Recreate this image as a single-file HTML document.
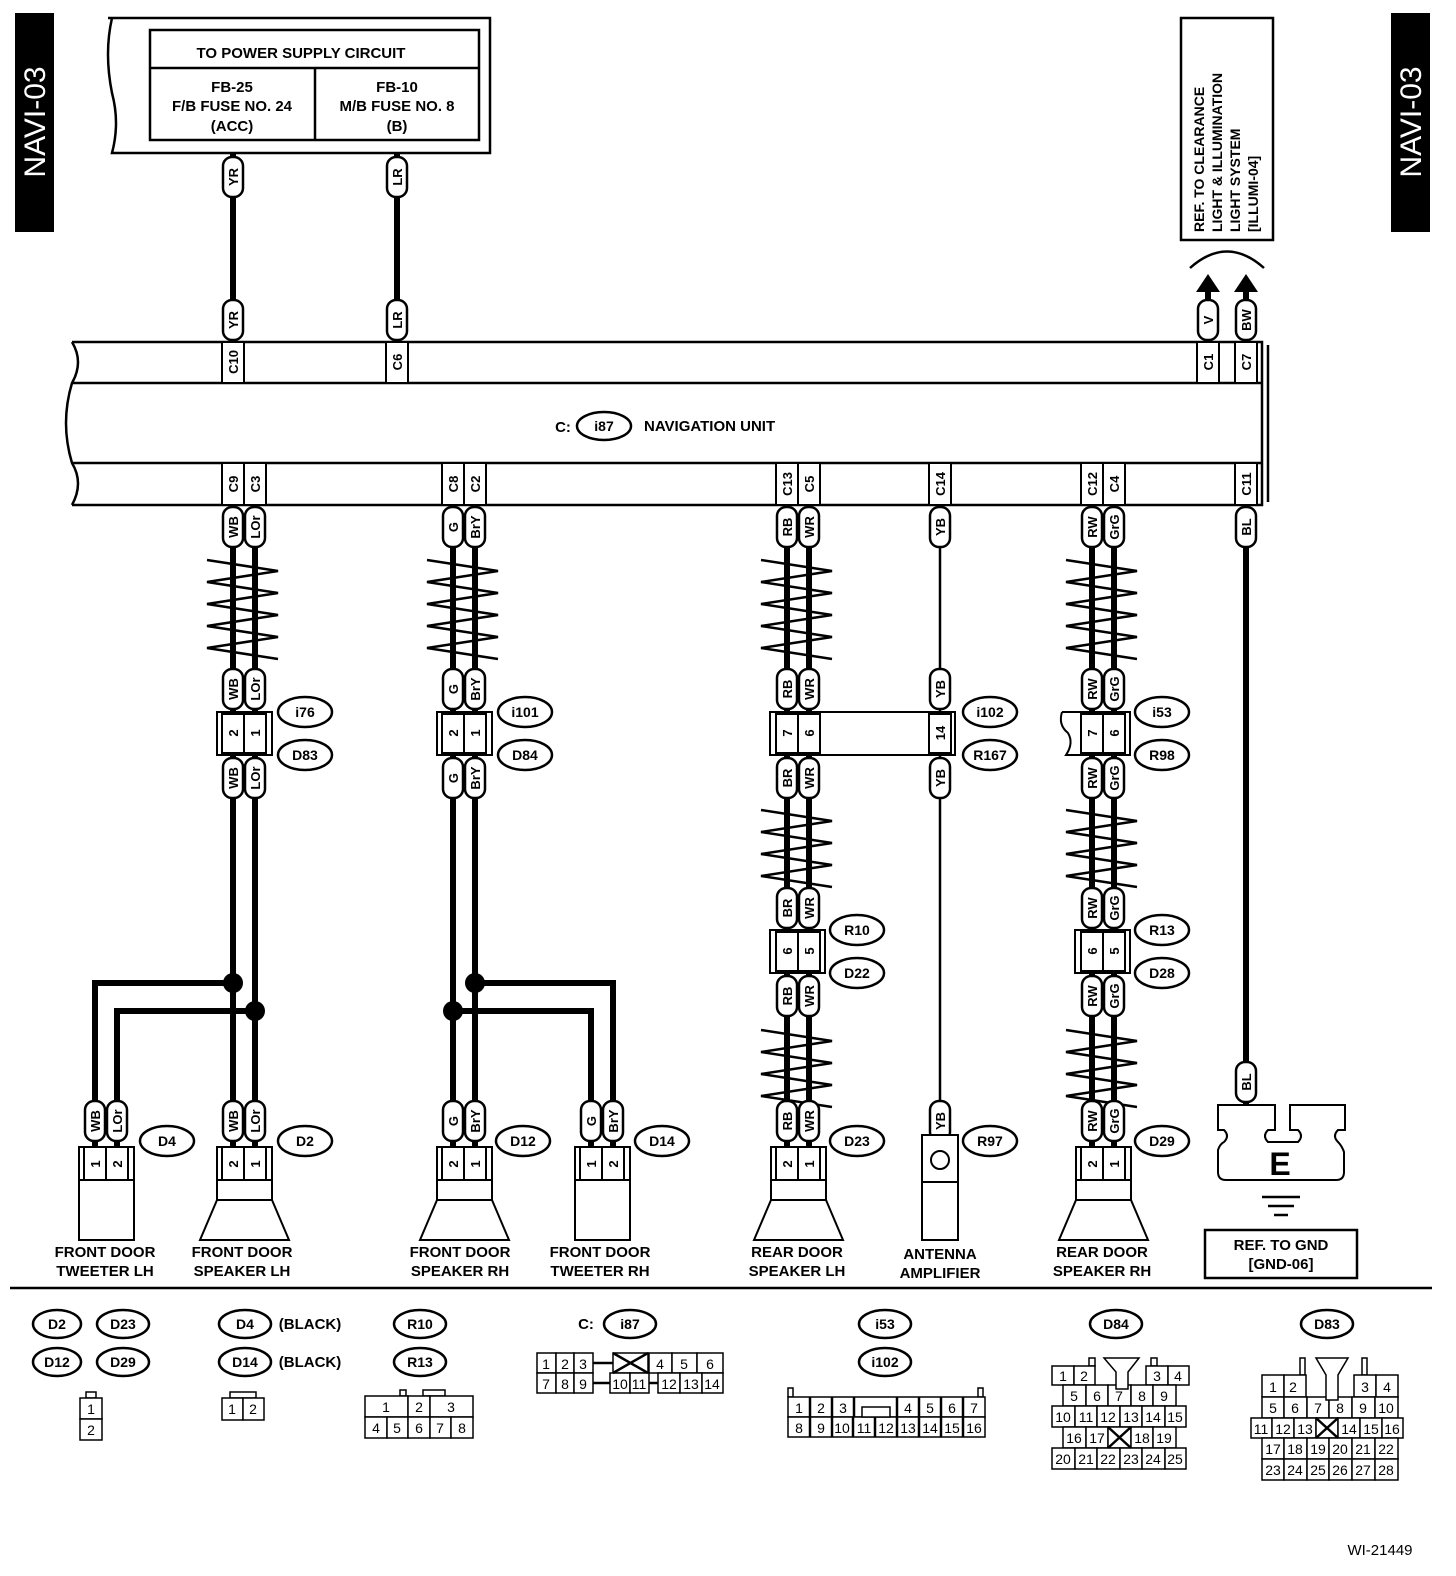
<!DOCTYPE html>
<html><head><meta charset="utf-8"><style>
html,body{margin:0;padding:0;background:#fff}
svg{display:block}
text{font-family:"Liberation Sans",sans-serif;font-weight:bold;fill:#000}
.p rect{fill:#fff;stroke:#000;stroke-width:2.5}
.p text{font-size:13px;text-anchor:middle}
.o ellipse{fill:#fff;stroke:#000;stroke-width:2.5}
.o text{font-size:14px;text-anchor:middle}
.w{stroke:#000;stroke-width:6;fill:none}
.t{stroke:#000;stroke-width:2.5;fill:none}
.b{stroke:#000;stroke-width:2;fill:#fff}
.c{font-size:13px;text-anchor:middle}
.lb{font-size:15px;text-anchor:middle}
.g rect{fill:#fff;stroke:#000;stroke-width:1.5}
.g text,text.n{font-size:14px;font-weight:normal;text-anchor:middle}
</style></head><body>
<svg width="1456" height="1576" viewBox="0 0 1456 1576" xmlns="http://www.w3.org/2000/svg">
<defs>
<polyline id="zz" class="t" points="-37,0 34,11 -37,22 34,33 -37,44 34,55 -37,66 34,77 -37,88 34,99"/>
<polyline id="zz2" class="t" points="-37,0 34,11 -37,22 34,33 -37,44 34,55 -37,66 34,77"/>
</defs>

<!-- side tabs -->
<rect x="15" y="13" width="39" height="219" fill="#000"/>
<text transform="translate(45,122) rotate(-90)" style="fill:#fff;font-size:30px;font-weight:normal;text-anchor:middle">NAVI-03</text>
<rect x="1391" y="13" width="39" height="219" fill="#000"/>
<text transform="translate(1421,122) rotate(-90)" style="fill:#fff;font-size:30px;font-weight:normal;text-anchor:middle">NAVI-03</text>

<!-- power supply box -->
<path d="M108 18 H490 V153 H112 q8 -30 0 -60 q-8 -40 0 -75" class="t"/>
<rect x="150" y="30" width="329" height="110" class="t"/>
<line x1="150" y1="68" x2="479" y2="68" class="t"/>
<line x1="315" y1="68" x2="315" y2="140" class="t"/>
<text x="301" y="58" class="lb">TO POWER SUPPLY CIRCUIT</text>
<text x="232" y="92" class="lb">FB-25</text>
<text x="232" y="111" class="lb">F/B FUSE NO. 24</text>
<text x="232" y="131" class="lb">(ACC)</text>
<text x="397" y="92" class="lb">FB-10</text>
<text x="397" y="111" class="lb">M/B FUSE NO. 8</text>
<text x="397" y="131" class="lb">(B)</text>

<!-- ref box right -->
<rect x="1181" y="18" width="92" height="222" class="t"/>
<text transform="translate(1204,232) rotate(-90)" style="font-size:14px">REF. TO CLEARANCE</text>
<text transform="translate(1222,232) rotate(-90)" style="font-size:14px">LIGHT &amp; ILLUMINATION</text>
<text transform="translate(1240,232) rotate(-90)" style="font-size:14px">LIGHT SYSTEM</text>
<text transform="translate(1258,232) rotate(-90)" style="font-size:14px">[ILLUMI-04]</text>
<path d="M1190 268 Q1227 235 1264 268" class="t" stroke-width="2"/>
<polygon points="1208,274 1196,292 1220,292" fill="#000"/>
<polygon points="1246,274 1234,292 1258,292" fill="#000"/>

<!-- wires top -->
<line x1="233" y1="153" x2="233" y2="342" class="w"/>
<line x1="397" y1="153" x2="397" y2="342" class="w"/>
<line x1="1208" y1="290" x2="1208" y2="342" class="w"/>
<line x1="1246" y1="290" x2="1246" y2="342" class="w"/>

<!-- navigation unit -->
<path d="M72 342 H1262 V505 H72" class="t"/>
<line x1="1268" y1="345" x2="1268" y2="502" class="t" stroke-width="1.5"/>
<line x1="72" y1="383" x2="1262" y2="383" class="t"/>
<line x1="72" y1="463" x2="1262" y2="463" class="t"/>
<path d="M72 342 q12 20 0 41 q-12 40 0 80 q12 20 0 42" class="t"/>
<g class="b">
<rect x="222" y="342" width="22" height="41"/><rect x="386" y="342" width="22" height="41"/>
<rect x="1197" y="342" width="22" height="41"/><rect x="1235" y="342" width="22" height="41"/>
<rect x="222" y="463" width="22" height="42"/><rect x="244" y="463" width="22" height="42"/>
<rect x="442" y="463" width="22" height="42"/><rect x="464" y="463" width="22" height="42"/>
<rect x="776" y="463" width="22" height="42"/><rect x="798" y="463" width="22" height="42"/>
<rect x="929" y="463" width="22" height="42"/>
<rect x="1081" y="463" width="22" height="42"/><rect x="1103" y="463" width="22" height="42"/>
<rect x="1235" y="463" width="22" height="42"/>
</g>
<g class="c">
<text transform="translate(238,362) rotate(-90)">C10</text>
<text transform="translate(402,362) rotate(-90)">C6</text>
<text transform="translate(1213,362) rotate(-90)">C1</text>
<text transform="translate(1251,362) rotate(-90)">C7</text>
<text transform="translate(238,484) rotate(-90)">C9</text>
<text transform="translate(260,484) rotate(-90)">C3</text>
<text transform="translate(458,484) rotate(-90)">C8</text>
<text transform="translate(480,484) rotate(-90)">C2</text>
<text transform="translate(792,484) rotate(-90)">C13</text>
<text transform="translate(814,484) rotate(-90)">C5</text>
<text transform="translate(945,484) rotate(-90)">C14</text>
<text transform="translate(1097,484) rotate(-90)">C12</text>
<text transform="translate(1119,484) rotate(-90)">C4</text>
<text transform="translate(1251,484) rotate(-90)">C11</text>
</g>
<text x="563" y="432" class="lb">C:</text>
<g class="o"><ellipse cx="604" cy="426" rx="27" ry="14"/><text x="604" y="431">i87</text></g>
<text x="644" y="431" style="font-size:15px">NAVIGATION UNIT</text>

<!-- main wires -->
<g class="w">
<line x1="233" y1="505" x2="233" y2="1147"/><line x1="255" y1="505" x2="255" y2="1147"/>
<line x1="453" y1="505" x2="453" y2="1147"/><line x1="475" y1="505" x2="475" y2="1147"/>
<line x1="787" y1="505" x2="787" y2="1147"/><line x1="809" y1="505" x2="809" y2="1147"/>
<line x1="1092" y1="505" x2="1092" y2="1147"/><line x1="1114" y1="505" x2="1114" y2="1147"/>
<line x1="1246" y1="505" x2="1246" y2="1105"/>
<path d="M233 983 H95 V1147"/><path d="M255 1011 H117 V1147"/>
<path d="M475 983 H613 V1147"/><path d="M453 1011 H591 V1147"/>
</g>
<line x1="940" y1="505" x2="940" y2="1135" class="t" stroke-width="3.5"/>
<g fill="#000"><circle cx="233" cy="983" r="10"/><circle cx="255" cy="1011" r="10"/><circle cx="453" cy="1011" r="10"/><circle cx="475" cy="983" r="10"/></g>

<!-- twist markers -->
<use href="#zz" x="244" y="560"/><use href="#zz" x="464" y="560"/>
<use href="#zz" x="798" y="560"/><use href="#zz" x="1103" y="560"/>
<use href="#zz2" x="798" y="810"/><use href="#zz2" x="1103" y="810"/>
<use href="#zz2" x="798" y="1030"/><use href="#zz2" x="1103" y="1030"/>

<!-- mid connectors -->
<rect x="217" y="712" width="55" height="43" class="b"/>
<rect x="222" y="714" width="22" height="39" class="b"/><rect x="244" y="714" width="22" height="39" class="b"/>
<rect x="437" y="712" width="55" height="43" class="b"/>
<rect x="442" y="714" width="22" height="39" class="b"/><rect x="464" y="714" width="22" height="39" class="b"/>
<rect x="770" y="712" width="185" height="43" class="b"/>
<rect x="776" y="714" width="22" height="39" class="b"/><rect x="798" y="714" width="22" height="39" class="b"/><rect x="929" y="714" width="22" height="39" class="b"/>
<path d="M1062 712 H1130 V755 H1066 q8 -12 2 -22 q-10 -8 -6 -21" class="b"/>
<rect x="1081" y="714" width="22" height="39" class="b"/><rect x="1103" y="714" width="22" height="39" class="b"/>
<rect x="770" y="930" width="55" height="43" class="b"/>
<rect x="776" y="932" width="22" height="39" class="b"/><rect x="798" y="932" width="22" height="39" class="b"/>
<rect x="1075" y="930" width="55" height="43" class="b"/>
<rect x="1081" y="932" width="22" height="39" class="b"/><rect x="1103" y="932" width="22" height="39" class="b"/>
<g class="c">
<text transform="translate(238,733) rotate(-90)">2</text><text transform="translate(260,733) rotate(-90)">1</text>
<text transform="translate(458,733) rotate(-90)">2</text><text transform="translate(480,733) rotate(-90)">1</text>
<text transform="translate(792,733) rotate(-90)">7</text><text transform="translate(814,733) rotate(-90)">6</text><text transform="translate(945,733) rotate(-90)">14</text>
<text transform="translate(1097,733) rotate(-90)">7</text><text transform="translate(1119,733) rotate(-90)">6</text>
<text transform="translate(792,951) rotate(-90)">6</text><text transform="translate(814,951) rotate(-90)">5</text>
<text transform="translate(1097,951) rotate(-90)">6</text><text transform="translate(1119,951) rotate(-90)">5</text>
</g>

<!-- pills -->
<g class="p">
<g transform="translate(233,177)"><rect x="-10" y="-20" width="20" height="40" rx="9"/><text transform="rotate(-90)" y="5">YR</text></g>
<g transform="translate(397,177)"><rect x="-10" y="-20" width="20" height="40" rx="9"/><text transform="rotate(-90)" y="5">LR</text></g>
<g transform="translate(233,320)"><rect x="-10" y="-20" width="20" height="40" rx="9"/><text transform="rotate(-90)" y="5">YR</text></g>
<g transform="translate(397,320)"><rect x="-10" y="-20" width="20" height="40" rx="9"/><text transform="rotate(-90)" y="5">LR</text></g>
<g transform="translate(1208,320)"><rect x="-10" y="-20" width="20" height="40" rx="9"/><text transform="rotate(-90)" y="5">V</text></g>
<g transform="translate(1246,320)"><rect x="-10" y="-20" width="20" height="40" rx="9"/><text transform="rotate(-90)" y="5">BW</text></g>

<g transform="translate(233,527)"><rect x="-10" y="-20" width="20" height="40" rx="9"/><text transform="rotate(-90)" y="5">WB</text></g>
<g transform="translate(255,527)"><rect x="-10" y="-20" width="20" height="40" rx="9"/><text transform="rotate(-90)" y="5">LOr</text></g>
<g transform="translate(453,527)"><rect x="-10" y="-20" width="20" height="40" rx="9"/><text transform="rotate(-90)" y="5">G</text></g>
<g transform="translate(475,527)"><rect x="-10" y="-20" width="20" height="40" rx="9"/><text transform="rotate(-90)" y="5">BrY</text></g>
<g transform="translate(787,527)"><rect x="-10" y="-20" width="20" height="40" rx="9"/><text transform="rotate(-90)" y="5">RB</text></g>
<g transform="translate(809,527)"><rect x="-10" y="-20" width="20" height="40" rx="9"/><text transform="rotate(-90)" y="5">WR</text></g>
<g transform="translate(940,527)"><rect x="-10" y="-20" width="20" height="40" rx="9"/><text transform="rotate(-90)" y="5">YB</text></g>
<g transform="translate(1092,527)"><rect x="-10" y="-20" width="20" height="40" rx="9"/><text transform="rotate(-90)" y="5">RW</text></g>
<g transform="translate(1114,527)"><rect x="-10" y="-20" width="20" height="40" rx="9"/><text transform="rotate(-90)" y="5">GrG</text></g>
<g transform="translate(1246,527)"><rect x="-10" y="-20" width="20" height="40" rx="9"/><text transform="rotate(-90)" y="5">BL</text></g>

<g transform="translate(233,689)"><rect x="-10" y="-20" width="20" height="40" rx="9"/><text transform="rotate(-90)" y="5">WB</text></g>
<g transform="translate(255,689)"><rect x="-10" y="-20" width="20" height="40" rx="9"/><text transform="rotate(-90)" y="5">LOr</text></g>
<g transform="translate(453,689)"><rect x="-10" y="-20" width="20" height="40" rx="9"/><text transform="rotate(-90)" y="5">G</text></g>
<g transform="translate(475,689)"><rect x="-10" y="-20" width="20" height="40" rx="9"/><text transform="rotate(-90)" y="5">BrY</text></g>
<g transform="translate(787,689)"><rect x="-10" y="-20" width="20" height="40" rx="9"/><text transform="rotate(-90)" y="5">RB</text></g>
<g transform="translate(809,689)"><rect x="-10" y="-20" width="20" height="40" rx="9"/><text transform="rotate(-90)" y="5">WR</text></g>
<g transform="translate(940,689)"><rect x="-10" y="-20" width="20" height="40" rx="9"/><text transform="rotate(-90)" y="5">YB</text></g>
<g transform="translate(1092,689)"><rect x="-10" y="-20" width="20" height="40" rx="9"/><text transform="rotate(-90)" y="5">RW</text></g>
<g transform="translate(1114,689)"><rect x="-10" y="-20" width="20" height="40" rx="9"/><text transform="rotate(-90)" y="5">GrG</text></g>

<g transform="translate(233,778)"><rect x="-10" y="-20" width="20" height="40" rx="9"/><text transform="rotate(-90)" y="5">WB</text></g>
<g transform="translate(255,778)"><rect x="-10" y="-20" width="20" height="40" rx="9"/><text transform="rotate(-90)" y="5">LOr</text></g>
<g transform="translate(453,778)"><rect x="-10" y="-20" width="20" height="40" rx="9"/><text transform="rotate(-90)" y="5">G</text></g>
<g transform="translate(475,778)"><rect x="-10" y="-20" width="20" height="40" rx="9"/><text transform="rotate(-90)" y="5">BrY</text></g>
<g transform="translate(787,778)"><rect x="-10" y="-20" width="20" height="40" rx="9"/><text transform="rotate(-90)" y="5">BR</text></g>
<g transform="translate(809,778)"><rect x="-10" y="-20" width="20" height="40" rx="9"/><text transform="rotate(-90)" y="5">WR</text></g>
<g transform="translate(940,778)"><rect x="-10" y="-20" width="20" height="40" rx="9"/><text transform="rotate(-90)" y="5">YB</text></g>
<g transform="translate(1092,778)"><rect x="-10" y="-20" width="20" height="40" rx="9"/><text transform="rotate(-90)" y="5">RW</text></g>
<g transform="translate(1114,778)"><rect x="-10" y="-20" width="20" height="40" rx="9"/><text transform="rotate(-90)" y="5">GrG</text></g>

<g transform="translate(787,908)"><rect x="-10" y="-20" width="20" height="40" rx="9"/><text transform="rotate(-90)" y="5">BR</text></g>
<g transform="translate(809,908)"><rect x="-10" y="-20" width="20" height="40" rx="9"/><text transform="rotate(-90)" y="5">WR</text></g>
<g transform="translate(1092,908)"><rect x="-10" y="-20" width="20" height="40" rx="9"/><text transform="rotate(-90)" y="5">RW</text></g>
<g transform="translate(1114,908)"><rect x="-10" y="-20" width="20" height="40" rx="9"/><text transform="rotate(-90)" y="5">GrG</text></g>
<g transform="translate(787,996)"><rect x="-10" y="-20" width="20" height="40" rx="9"/><text transform="rotate(-90)" y="5">RB</text></g>
<g transform="translate(809,996)"><rect x="-10" y="-20" width="20" height="40" rx="9"/><text transform="rotate(-90)" y="5">WR</text></g>
<g transform="translate(1092,996)"><rect x="-10" y="-20" width="20" height="40" rx="9"/><text transform="rotate(-90)" y="5">RW</text></g>
<g transform="translate(1114,996)"><rect x="-10" y="-20" width="20" height="40" rx="9"/><text transform="rotate(-90)" y="5">GrG</text></g>

<g transform="translate(95,1121)"><rect x="-10" y="-20" width="20" height="40" rx="9"/><text transform="rotate(-90)" y="5">WB</text></g>
<g transform="translate(117,1121)"><rect x="-10" y="-20" width="20" height="40" rx="9"/><text transform="rotate(-90)" y="5">LOr</text></g>
<g transform="translate(233,1121)"><rect x="-10" y="-20" width="20" height="40" rx="9"/><text transform="rotate(-90)" y="5">WB</text></g>
<g transform="translate(255,1121)"><rect x="-10" y="-20" width="20" height="40" rx="9"/><text transform="rotate(-90)" y="5">LOr</text></g>
<g transform="translate(453,1121)"><rect x="-10" y="-20" width="20" height="40" rx="9"/><text transform="rotate(-90)" y="5">G</text></g>
<g transform="translate(475,1121)"><rect x="-10" y="-20" width="20" height="40" rx="9"/><text transform="rotate(-90)" y="5">BrY</text></g>
<g transform="translate(591,1121)"><rect x="-10" y="-20" width="20" height="40" rx="9"/><text transform="rotate(-90)" y="5">G</text></g>
<g transform="translate(613,1121)"><rect x="-10" y="-20" width="20" height="40" rx="9"/><text transform="rotate(-90)" y="5">BrY</text></g>
<g transform="translate(787,1121)"><rect x="-10" y="-20" width="20" height="40" rx="9"/><text transform="rotate(-90)" y="5">RB</text></g>
<g transform="translate(809,1121)"><rect x="-10" y="-20" width="20" height="40" rx="9"/><text transform="rotate(-90)" y="5">WR</text></g>
<g transform="translate(940,1121)"><rect x="-10" y="-20" width="20" height="40" rx="9"/><text transform="rotate(-90)" y="5">YB</text></g>
<g transform="translate(1092,1121)"><rect x="-10" y="-20" width="20" height="40" rx="9"/><text transform="rotate(-90)" y="5">RW</text></g>
<g transform="translate(1114,1121)"><rect x="-10" y="-20" width="20" height="40" rx="9"/><text transform="rotate(-90)" y="5">GrG</text></g>
<g transform="translate(1246,1082)"><rect x="-10" y="-20" width="20" height="40" rx="9"/><text transform="rotate(-90)" y="5">BL</text></g>
</g>

<!-- ovals -->
<g class="o">
<ellipse cx="305" cy="712" rx="27" ry="15"/><text x="305" y="717">i76</text>
<ellipse cx="305" cy="755" rx="27" ry="15"/><text x="305" y="760">D83</text>
<ellipse cx="525" cy="712" rx="27" ry="15"/><text x="525" y="717">i101</text>
<ellipse cx="525" cy="755" rx="27" ry="15"/><text x="525" y="760">D84</text>
<ellipse cx="990" cy="712" rx="27" ry="15"/><text x="990" y="717">i102</text>
<ellipse cx="990" cy="755" rx="27" ry="15"/><text x="990" y="760">R167</text>
<ellipse cx="1162" cy="712" rx="27" ry="15"/><text x="1162" y="717">i53</text>
<ellipse cx="1162" cy="755" rx="27" ry="15"/><text x="1162" y="760">R98</text>
<ellipse cx="857" cy="930" rx="27" ry="15"/><text x="857" y="935">R10</text>
<ellipse cx="857" cy="973" rx="27" ry="15"/><text x="857" y="978">D22</text>
<ellipse cx="1162" cy="930" rx="27" ry="15"/><text x="1162" y="935">R13</text>
<ellipse cx="1162" cy="973" rx="27" ry="15"/><text x="1162" y="978">D28</text>
<ellipse cx="167" cy="1141" rx="27" ry="15"/><text x="167" y="1146">D4</text>
<ellipse cx="305" cy="1141" rx="27" ry="15"/><text x="305" y="1146">D2</text>
<ellipse cx="523" cy="1141" rx="27" ry="15"/><text x="523" y="1146">D12</text>
<ellipse cx="662" cy="1141" rx="27" ry="15"/><text x="662" y="1146">D14</text>
<ellipse cx="857" cy="1141" rx="27" ry="15"/><text x="857" y="1146">D23</text>
<ellipse cx="990" cy="1141" rx="27" ry="15"/><text x="990" y="1146">R97</text>
<ellipse cx="1162" cy="1141" rx="27" ry="15"/><text x="1162" y="1146">D29</text>
</g>

<!-- devices -->
<g class="b">
<rect x="79" y="1147" width="55" height="33"/><rect x="84" y="1147" width="22" height="33"/><rect x="106" y="1147" width="22" height="33"/>
<rect x="79" y="1180" width="55" height="60"/>
<rect x="217" y="1147" width="55" height="33"/><rect x="222" y="1147" width="22" height="33"/><rect x="244" y="1147" width="22" height="33"/>
<rect x="217" y="1180" width="55" height="20"/><polygon points="217,1200 272,1200 289,1240 200,1240"/>
<rect x="437" y="1147" width="55" height="33"/><rect x="442" y="1147" width="22" height="33"/><rect x="464" y="1147" width="22" height="33"/>
<rect x="437" y="1180" width="55" height="20"/><polygon points="437,1200 492,1200 509,1240 420,1240"/>
<rect x="575" y="1147" width="55" height="33"/><rect x="580" y="1147" width="22" height="33"/><rect x="602" y="1147" width="22" height="33"/>
<rect x="575" y="1180" width="55" height="60"/>
<rect x="771" y="1147" width="55" height="33"/><rect x="776" y="1147" width="22" height="33"/><rect x="798" y="1147" width="22" height="33"/>
<rect x="771" y="1180" width="55" height="20"/><polygon points="771,1200 826,1200 843,1240 754,1240"/>
<rect x="1076" y="1147" width="55" height="33"/><rect x="1081" y="1147" width="22" height="33"/><rect x="1103" y="1147" width="22" height="33"/>
<rect x="1076" y="1180" width="55" height="20"/><polygon points="1076,1200 1131,1200 1148,1240 1059,1240"/>
<rect x="922" y="1135" width="36" height="105"/><line x1="922" y1="1182" x2="958" y2="1182"/>
<circle cx="940" cy="1160" r="9"/>
</g>
<g class="c">
<text transform="translate(100,1164) rotate(-90)">1</text><text transform="translate(122,1164) rotate(-90)">2</text>
<text transform="translate(238,1164) rotate(-90)">2</text><text transform="translate(260,1164) rotate(-90)">1</text>
<text transform="translate(458,1164) rotate(-90)">2</text><text transform="translate(480,1164) rotate(-90)">1</text>
<text transform="translate(596,1164) rotate(-90)">1</text><text transform="translate(618,1164) rotate(-90)">2</text>
<text transform="translate(792,1164) rotate(-90)">2</text><text transform="translate(814,1164) rotate(-90)">1</text>
<text transform="translate(1097,1164) rotate(-90)">2</text><text transform="translate(1119,1164) rotate(-90)">1</text>
</g>

<!-- ground -->
<path d="M1218 1105 H1275 V1130 H1268 q-6 6 0 12 H1298 q6 -6 0 -12 H1290 V1105 H1345 V1130 H1338 q-6 6 0 12 q4 4 6 10 V1172 q0 8 -8 8 H1226 q-8 0 -8 -8 V1150 q2 -6 6 -8 q6 -6 0 -12 H1218 Z" class="b" stroke-width="2.5"/>
<text x="1280" y="1175" style="font-size:32px;text-anchor:middle">E</text>
<g class="t"><line x1="1262" y1="1197" x2="1300" y2="1197"/><line x1="1268" y1="1206" x2="1294" y2="1206"/><line x1="1274" y1="1215" x2="1288" y2="1215"/></g>
<rect x="1205" y="1230" width="152" height="48" class="t"/>
<text x="1281" y="1250" class="lb">REF. TO GND</text>
<text x="1281" y="1269" class="lb">[GND-06]</text>

<!-- labels -->
<g class="lb">
<text x="105" y="1257">FRONT DOOR</text><text x="105" y="1276">TWEETER LH</text>
<text x="242" y="1257">FRONT DOOR</text><text x="242" y="1276">SPEAKER LH</text>
<text x="460" y="1257">FRONT DOOR</text><text x="460" y="1276">SPEAKER RH</text>
<text x="600" y="1257">FRONT DOOR</text><text x="600" y="1276">TWEETER RH</text>
<text x="797" y="1257">REAR DOOR</text><text x="797" y="1276">SPEAKER LH</text>
<text x="940" y="1259">ANTENNA</text><text x="940" y="1278">AMPLIFIER</text>
<text x="1102" y="1257">REAR DOOR</text><text x="1102" y="1276">SPEAKER RH</text>
</g>
<line x1="10" y1="1288" x2="1432" y2="1288" class="t"/>

<!-- legend -->
<g class="o">
<ellipse cx="57" cy="1324" rx="24" ry="14"/><text x="57" y="1329">D2</text>
<ellipse cx="123" cy="1324" rx="26" ry="14"/><text x="123" y="1329">D23</text>
<ellipse cx="57" cy="1362" rx="24" ry="14"/><text x="57" y="1367">D12</text>
<ellipse cx="123" cy="1362" rx="26" ry="14"/><text x="123" y="1367">D29</text>
<ellipse cx="245" cy="1324" rx="26" ry="14"/><text x="245" y="1329">D4</text>
<ellipse cx="245" cy="1362" rx="26" ry="14"/><text x="245" y="1367">D14</text>
<ellipse cx="420" cy="1324" rx="26" ry="14"/><text x="420" y="1329">R10</text>
<ellipse cx="420" cy="1362" rx="26" ry="14"/><text x="420" y="1367">R13</text>
<ellipse cx="630" cy="1324" rx="26" ry="14"/><text x="630" y="1329">i87</text>
<ellipse cx="885" cy="1324" rx="26" ry="14"/><text x="885" y="1329">i53</text>
<ellipse cx="885" cy="1362" rx="26" ry="14"/><text x="885" y="1367">i102</text>
<ellipse cx="1116" cy="1324" rx="26" ry="14"/><text x="1116" y="1329">D84</text>
<ellipse cx="1327" cy="1324" rx="26" ry="14"/><text x="1327" y="1329">D83</text>
</g>
<text x="310" y="1329" class="lb">(BLACK)</text>
<text x="310" y="1367" class="lb">(BLACK)</text>
<text x="586" y="1329" class="lb">C:</text>

<g class="g">
<rect x="86" y="1392" width="10" height="6"/>
<rect x="80" y="1398" width="22" height="21"/><text x="91" y="1414">1</text>
<rect x="80" y="1419" width="22" height="21"/><text x="91" y="1435">2</text>
<rect x="230" y="1392" width="26" height="6"/>
<rect x="222" y="1398" width="21" height="22"/><text x="232" y="1414">1</text>
<rect x="243" y="1398" width="21" height="22"/><text x="253" y="1414">2</text>
<rect x="400" y="1390" width="6" height="6"/><rect x="423" y="1390" width="22" height="6"/>
<rect x="365" y="1396" width="43" height="21"/><text x="386" y="1412">1</text>
<rect x="408" y="1396" width="22" height="21"/><text x="419" y="1412">2</text>
<rect x="430" y="1396" width="43" height="21"/><text x="451" y="1412">3</text>
<rect x="365" y="1417" width="22" height="21"/><text x="376" y="1433">4</text>
<rect x="387" y="1417" width="21" height="21"/><text x="397" y="1433">5</text>
<rect x="408" y="1417" width="22" height="21"/><text x="419" y="1433">6</text>
<rect x="430" y="1417" width="21" height="21"/><text x="440" y="1433">7</text>
<rect x="451" y="1417" width="22" height="21"/><text x="462" y="1433">8</text>
<rect x="537" y="1353" width="19" height="20"/><text x="546" y="1369">1</text>
<rect x="556" y="1353" width="18" height="20"/><text x="565" y="1369">2</text>
<rect x="574" y="1353" width="19" height="20"/><text x="583" y="1369">3</text>
<rect x="613" y="1353" width="35" height="20"/>
<rect x="649" y="1353" width="23" height="20"/><text x="660" y="1369">4</text>
<rect x="672" y="1353" width="25" height="20"/><text x="684" y="1369">5</text>
<rect x="697" y="1353" width="26" height="20"/><text x="710" y="1369">6</text>
<rect x="537" y="1373" width="19" height="20"/><text x="546" y="1389">7</text>
<rect x="556" y="1373" width="18" height="20"/><text x="565" y="1389">8</text>
<rect x="574" y="1373" width="19" height="20"/><text x="583" y="1389">9</text>
<rect x="610" y="1373" width="20" height="20"/><text x="620" y="1389">10</text>
<rect x="630" y="1373" width="19" height="20"/><text x="639" y="1389">11</text>
<rect x="658" y="1373" width="22" height="20"/><text x="669" y="1389">12</text>
<rect x="680" y="1373" width="22" height="20"/><text x="691" y="1389">13</text>
<rect x="702" y="1373" width="21" height="20"/><text x="712" y="1389">14</text>
</g>
<g class="t" stroke-width="1.5"><line x1="593" y1="1363" x2="613" y2="1363"/><line x1="613" y1="1353" x2="648" y2="1373"/><line x1="648" y1="1353" x2="613" y2="1373"/><line x1="593" y1="1383" x2="610" y2="1383"/><line x1="649" y1="1383" x2="658" y2="1383"/></g>

<!-- i53 legend -->
<g class="g">
<rect x="788" y="1388" width="5" height="9"/><rect x="978" y="1388" width="5" height="9"/>
<rect x="788" y="1397" width="197" height="20"/>
<rect x="788" y="1417" width="197" height="20"/>
<rect x="862" y="1407" width="28" height="10"/>
<text x="799" y="1413">1</text><text x="821" y="1413">2</text><text x="843" y="1413">3</text>
<text x="908" y="1413">4</text><text x="930" y="1413">5</text><text x="952" y="1413">6</text><text x="974" y="1413">7</text>
<text x="799" y="1433">8</text><text x="821" y="1433">9</text><text x="842" y="1433">10</text><text x="864" y="1433">11</text><text x="886" y="1433">12</text><text x="908" y="1433">13</text><text x="930" y="1433">14</text><text x="952" y="1433">15</text><text x="974" y="1433">16</text>
</g>
<g class="t" stroke-width="1.5">
<line x1="810" y1="1397" x2="810" y2="1417"/><line x1="832" y1="1397" x2="832" y2="1417"/><line x1="854" y1="1397" x2="854" y2="1417"/>
<line x1="897" y1="1397" x2="897" y2="1417"/><line x1="919" y1="1397" x2="919" y2="1417"/><line x1="941" y1="1397" x2="941" y2="1417"/><line x1="963" y1="1397" x2="963" y2="1417"/>
<line x1="810" y1="1417" x2="810" y2="1437"/><line x1="832" y1="1417" x2="832" y2="1437"/><line x1="853" y1="1417" x2="853" y2="1437"/><line x1="875" y1="1417" x2="875" y2="1437"/><line x1="897" y1="1417" x2="897" y2="1437"/><line x1="919" y1="1417" x2="919" y2="1437"/><line x1="941" y1="1417" x2="941" y2="1437"/><line x1="963" y1="1417" x2="963" y2="1437"/>
</g>

<!-- D84 legend -->
<g class="g">
<rect x="1089" y="1358" width="6" height="8"/><rect x="1151" y="1358" width="6" height="8"/>
<rect x="1052" y="1366" width="22" height="19"/><text x="1063" y="1381">1</text>
<rect x="1074" y="1366" width="21" height="19"/><text x="1084" y="1381">2</text>
<rect x="1146" y="1366" width="22" height="19"/><text x="1157" y="1381">3</text>
<rect x="1168" y="1366" width="21" height="19"/><text x="1178" y="1381">4</text>
<rect x="1063" y="1385" width="23" height="21"/><text x="1074" y="1401">5</text>
<rect x="1086" y="1385" width="22" height="21"/><text x="1097" y="1401">6</text>
<rect x="1108" y="1385" width="23" height="21"/><text x="1119" y="1401">7</text>
<rect x="1131" y="1385" width="22" height="21"/><text x="1142" y="1401">8</text>
<rect x="1153" y="1385" width="23" height="21"/><text x="1164" y="1401">9</text>
<rect x="1052" y="1406" width="23" height="21"/><text x="1063" y="1422">10</text>
<rect x="1075" y="1406" width="22" height="21"/><text x="1086" y="1422">11</text>
<rect x="1097" y="1406" width="23" height="21"/><text x="1108" y="1422">12</text>
<rect x="1120" y="1406" width="22" height="21"/><text x="1131" y="1422">13</text>
<rect x="1142" y="1406" width="23" height="21"/><text x="1153" y="1422">14</text>
<rect x="1165" y="1406" width="21" height="21"/><text x="1175" y="1422">15</text>
<rect x="1063" y="1427" width="23" height="21"/><text x="1074" y="1443">16</text>
<rect x="1086" y="1427" width="22" height="21"/><text x="1097" y="1443">17</text>
<rect x="1108" y="1427" width="23" height="21"/>
<rect x="1131" y="1427" width="22" height="21"/><text x="1142" y="1443">18</text>
<rect x="1153" y="1427" width="23" height="21"/><text x="1164" y="1443">19</text>
<rect x="1052" y="1448" width="23" height="21"/><text x="1063" y="1464">20</text>
<rect x="1075" y="1448" width="22" height="21"/><text x="1086" y="1464">21</text>
<rect x="1097" y="1448" width="23" height="21"/><text x="1108" y="1464">22</text>
<rect x="1120" y="1448" width="22" height="21"/><text x="1131" y="1464">23</text>
<rect x="1142" y="1448" width="23" height="21"/><text x="1153" y="1464">24</text>
<rect x="1165" y="1448" width="21" height="21"/><text x="1175" y="1464">25</text>
</g>
<g class="t" stroke-width="1.5"><line x1="1108" y1="1427" x2="1131" y2="1448"/><line x1="1131" y1="1427" x2="1108" y2="1448"/></g>

<!-- D83 legend -->
<g class="g">
<rect x="1300" y="1358" width="5" height="17"/><rect x="1362" y="1358" width="5" height="17"/>
<rect x="1262" y="1375" width="22" height="22"/><text x="1273" y="1392">1</text>
<rect x="1284" y="1375" width="22" height="22"/><text x="1293" y="1392">2</text>
<rect x="1354" y="1375" width="22" height="22"/><text x="1365" y="1392">3</text>
<rect x="1376" y="1375" width="22" height="22"/><text x="1387" y="1392">4</text>
<rect x="1262" y="1397" width="22" height="21"/><text x="1273" y="1413">5</text>
<rect x="1284" y="1397" width="23" height="21"/><text x="1295" y="1413">6</text>
<rect x="1307" y="1397" width="22" height="21"/><text x="1318" y="1413">7</text>
<rect x="1329" y="1397" width="23" height="21"/><text x="1340" y="1413">8</text>
<rect x="1352" y="1397" width="23" height="21"/><text x="1363" y="1413">9</text>
<rect x="1375" y="1397" width="23" height="21"/><text x="1386" y="1413">10</text>
<rect x="1251" y="1418" width="21" height="20"/><text x="1261" y="1434">11</text>
<rect x="1272" y="1418" width="22" height="20"/><text x="1283" y="1434">12</text>
<rect x="1294" y="1418" width="22" height="20"/><text x="1305" y="1434">13</text>
<rect x="1316" y="1418" width="22" height="20"/>
<rect x="1338" y="1418" width="22" height="20"/><text x="1349" y="1434">14</text>
<rect x="1360" y="1418" width="22" height="20"/><text x="1371" y="1434">15</text>
<rect x="1382" y="1418" width="21" height="20"/><text x="1392" y="1434">16</text>
<rect x="1262" y="1438" width="22" height="21"/><text x="1273" y="1454">17</text>
<rect x="1284" y="1438" width="23" height="21"/><text x="1295" y="1454">18</text>
<rect x="1307" y="1438" width="22" height="21"/><text x="1318" y="1454">19</text>
<rect x="1329" y="1438" width="23" height="21"/><text x="1340" y="1454">20</text>
<rect x="1352" y="1438" width="23" height="21"/><text x="1363" y="1454">21</text>
<rect x="1375" y="1438" width="23" height="21"/><text x="1386" y="1454">22</text>
<rect x="1262" y="1459" width="22" height="21"/><text x="1273" y="1475">23</text>
<rect x="1284" y="1459" width="23" height="21"/><text x="1295" y="1475">24</text>
<rect x="1307" y="1459" width="22" height="21"/><text x="1318" y="1475">25</text>
<rect x="1329" y="1459" width="23" height="21"/><text x="1340" y="1475">26</text>
<rect x="1352" y="1459" width="23" height="21"/><text x="1363" y="1475">27</text>
<rect x="1375" y="1459" width="23" height="21"/><text x="1386" y="1475">28</text>
</g>
<g class="t" stroke-width="1.5"><line x1="1316" y1="1418" x2="1338" y2="1438"/><line x1="1338" y1="1418" x2="1316" y2="1438"/></g>
<polygon points="1316,1358 1348,1358 1338,1375 1338,1400 1326,1400 1326,1375" style="fill:#fff;stroke:#000;stroke-width:1.5"/>
<polygon points="1104,1358 1139,1358 1128,1372 1128,1389 1116,1389 1116,1372" style="fill:#fff;stroke:#000;stroke-width:1.5"/>

<text x="1380" y="1555" class="n" style="font-size:15px">WI-21449</text>
</svg>
</body></html>
